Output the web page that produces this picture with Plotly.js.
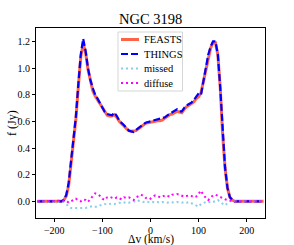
<!DOCTYPE html>
<html>
<head>
<meta charset="utf-8">
<script src="https://cdn.plot.ly/plotly-3.0.1.min.js"></script>
<style>html,body{margin:0;padding:0;background:#fff;}#chart{width:294px;height:245px;}</style>
</head>
<body>
<div id="chart"></div>
<script>
// velocity channels (km/s)
var velocity = [-235,-230,-225,-220,-215,-210,-205,-200,-195,-190,
  -185,-180,-175,-170,-165,-160,-155,-150,-145,-140,-135,-130,-125,-120,-115,-110,-105,-100,-95,-90,
  -85,-80,-75,-70,-65,-60,-55,-50,-45,-40,-35,-30,-25,-20,-15,-10,-5,0,5,10,
  15,20,25,30,35,40,45,50,55,60,65,70,75,80,85,90,95,100,105,110,
  115,120,125,130,135,140,145,150,155,160,165,170,175,
  180,185,190,195,200,205,210,215,220,225,230,235];

var feasts = [0,0,0,0,0,0,0,0,0,0,
  0.0,0.01,0.04,0.12,0.28,0.45,0.62,0.86,1.08,1.18,1.12,0.99,0.9,0.83,0.79,0.76,0.73,0.7,0.67,0.645,
  0.64,0.64,0.65,0.63,0.6,0.585,0.565,0.545,0.53,0.525,0.525,0.53,0.545,0.56,0.575,0.585,0.59,0.595,0.6,0.6,
  0.605,0.605,0.61,0.625,0.64,0.65,0.655,0.665,0.675,0.67,0.665,0.69,0.71,0.72,0.73,0.745,0.77,0.785,0.815,0.9,
  1.0,1.09,1.15,1.19,1.19,1.1,0.85,0.5,0.25,0.1,0.03,0.01,0.0,
  0,0,0,0,0,0,0,0,0,0,0,0];

var things = [0,0,0,0,0,0,0,0,0,0,
  0.0,0.01,0.05,0.14,0.3,0.47,0.64,0.88,1.1,1.22,1.13,1.0,0.91,0.85,0.8,0.77,0.74,0.7,0.67,0.655,
  0.65,0.645,0.665,0.64,0.605,0.59,0.57,0.55,0.53,0.525,0.52,0.535,0.55,0.565,0.58,0.59,0.595,0.6,0.6,0.605,
  0.61,0.615,0.62,0.63,0.645,0.655,0.665,0.675,0.69,0.675,0.675,0.7,0.72,0.73,0.74,0.76,0.79,0.81,0.8,0.9,
  1.0,1.1,1.16,1.2,1.2,1.1,0.85,0.5,0.25,0.1,0.03,0.01,0.0,
  0,0,0,0,0,0,0,0,0,0,0,0];

var missed = [0,0,0,0,0,0,0,0,0,0,
  0,-0.005,-0.02,-0.04,-0.05,-0.05,-0.052,-0.05,-0.053,-0.055,-0.05,-0.045,-0.04,-0.035,-0.04,-0.04,-0.03,-0.025,-0.02,-0.025,
  -0.02,-0.015,-0.02,-0.015,-0.01,-0.015,-0.01,-0.005,-0.01,-0.005,0,-0.005,0.005,0,-0.005,0,-0.005,-0.01,-0.005,-0.01,
  -0.005,-0.01,-0.005,-0.01,-0.01,-0.005,-0.01,-0.01,-0.005,-0.01,-0.01,-0.005,-0.01,-0.005,-0.015,-0.02,-0.03,-0.04,-0.02,-0.01,
  -0.005,-0.01,0.0,-0.005,0.005,0.01,-0.005,-0.02,-0.03,-0.015,0,0.005,0,
  0,0,0,0,0,0,0,0,0,0,0,0];

var diffuse = [0,0,0,0,0,0,0,0,0,0,
  0,0,0.005,-0.01,0.0,0.015,0.02,0.005,0.0,0.015,0.01,-0.005,0.02,0.04,0.06,0.055,0.04,0.02,0.01,0.03,
  0.035,0.025,0.02,0.03,0.025,0.015,0.03,0.025,0.03,0.02,0.01,0.03,0.04,0.05,0.04,0.025,0.03,0.02,0.035,0.045,
  0.04,0.03,0.035,0.045,0.04,0.035,0.05,0.055,0.055,0.05,0.04,0.035,0.04,0.045,0.04,0.03,0.035,0.06,0.08,0.045,
  0.025,0.01,0.03,0.045,0.05,0.04,0.03,0.02,0.015,0.01,0.005,0,0,
  0,0,0,0,0,0,0,0,0,0,0,0];

var seriesNames = ['FEASTS','THINGS','missed','diffuse'];
var titleText = 'NGC 3198';
var xTitle = '\u0394v (km/s)';
var yTitle = 'f (Jy)';
var xTickVals = [-200,-100,0,100,200];
var yTickVals = [0,0.2,0.4,0.6,0.8,1.0,1.2];

var font = 'Liberation Serif, Times New Roman, serif';
var lineStyles = [
  {color: '#ff6347', width: 3},
  {color: '#0000ff', width: 2.2, dash: '7px,3px'},
  {color: '#87ceeb', width: 2, dash: '2px,3px'},
  {color: '#ff00ff', width: 2, dash: '2px,3px'}
];
var seriesData = [feasts, things, missed, diffuse];

var traces = seriesData.map(function (ys, i) {
  return {x: velocity, y: ys, name: seriesNames[i], mode: 'lines', line: lineStyles[i], showlegend: false};
});

// geometry of plot area (px)
var W = 294, H = 245, L = 36, R = 29, T = 28, B = 27;
var pw = W - L - R, ph = H - T - B;
function px2x(p) { return (p - L) / pw; }
function py2y(p) { return (H - B - p) / ph; }

// custom legend (matplotlib style)
var shapes = [{
  type: 'rect', xref: 'paper', yref: 'paper',
  x0: px2x(118), x1: px2x(182.5), y0: py2y(91), y1: py2y(32),
  fillcolor: 'rgba(255,255,255,0.8)', line: {color: '#d6d6d6', width: 1}, layer: 'above'
}];
var annotations = [];
var rowY = [39.5, 54, 68.5, 83];
seriesNames.forEach(function (nm, i) {
  var ls = lineStyles[i];
  shapes.push({
    type: 'line', xref: 'paper', yref: 'paper',
    x0: px2x(121), x1: px2x(139), y0: py2y(rowY[i]), y1: py2y(rowY[i]),
    line: {color: ls.color, width: ls.width, dash: ls.dash || 'solid'}, layer: 'above'
  });
  annotations.push({
    xref: 'paper', yref: 'paper', x: px2x(141.5), y: py2y(rowY[i]),
    xanchor: 'left', yanchor: 'middle', text: nm, showarrow: false,
    font: {family: font, size: 10.5, color: '#000'}
  });
});
// titles
annotations.push({xref: 'paper', yref: 'paper', x: px2x(150.5), y: py2y(19), xanchor: 'center', yanchor: 'middle',
  text: titleText, showarrow: false, font: {family: font, size: 14.5, color: '#000'}});
annotations.push({xref: 'paper', yref: 'paper', x: px2x(150.5), y: py2y(240), xanchor: 'center', yanchor: 'middle',
  text: xTitle, showarrow: false, borderpad: 0, font: {family: font, size: 11.5, color: '#000'}});
annotations.push({xref: 'paper', yref: 'paper', x: px2x(12), y: py2y(123), xanchor: 'center', yanchor: 'middle',
  text: yTitle, textangle: -90, showarrow: false, font: {family: font, size: 12, color: '#000'}});

var axisCommon = {
  showline: true, linecolor: '#000', linewidth: 1, mirror: true,
  ticks: 'outside', ticklen: 3, tickcolor: '#000', tickwidth: 1,
  showgrid: false, zeroline: false,
  tickfont: {family: font, size: 10, color: '#000'}
};

var layout = {
  width: W, height: H,
  margin: {l: L, r: R, t: T, b: B, pad: 0},
  paper_bgcolor: '#fff', plot_bgcolor: '#fff',
  font: {family: font, color: '#000'},
  xaxis: Object.assign({}, axisCommon, {range: [-238, 238], tickvals: xTickVals}),
  yaxis: Object.assign({}, axisCommon, {range: [-0.125, 1.3], tickvals: yTickVals, tickformat: '.1f'}),
  showlegend: false,
  shapes: shapes,
  annotations: annotations
};

Plotly.newPlot('chart', traces, layout, {staticPlot: true, displayModeBar: false});
</script>
</body>
</html>
